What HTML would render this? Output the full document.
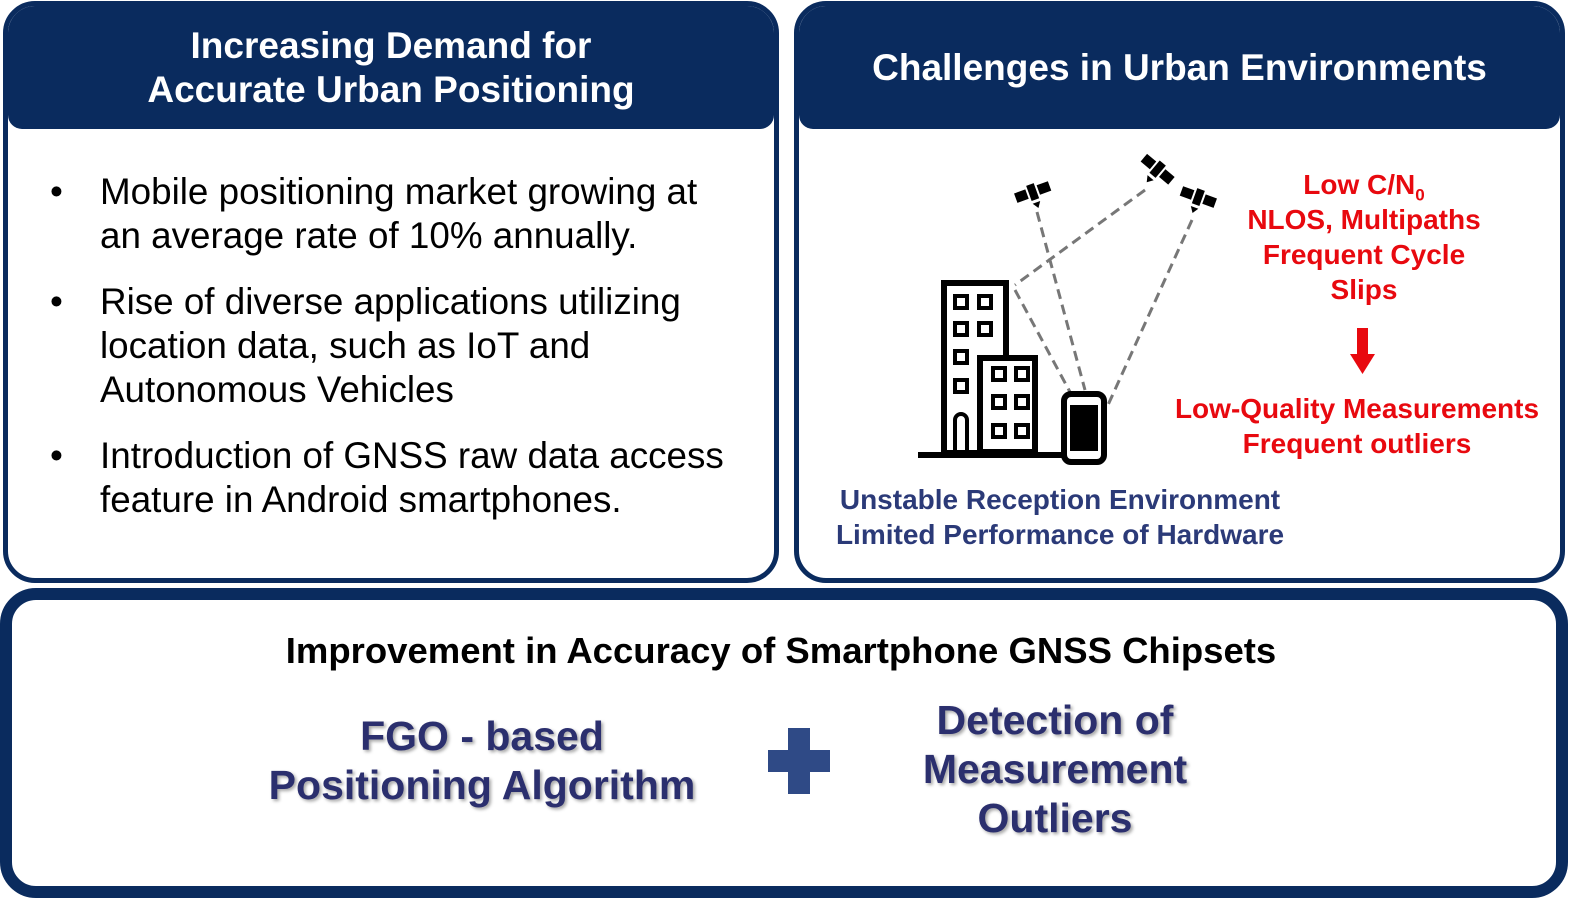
<!DOCTYPE html>
<html><head><meta charset="utf-8"><style>
body{margin:0;width:1582px;height:903px;background:#fff;position:relative;overflow:hidden;font-family:"Liberation Sans",Arial,sans-serif;}
.abs{position:absolute;}
.panel{position:absolute;border:5px solid #0a2b5e;border-radius:32px;box-sizing:border-box;overflow:hidden;}
.hdr{position:absolute;left:0;right:0;top:0;height:123px;background:#0a2b5e;border-radius:0 0 14px 14px;color:#fff;font-weight:bold;font-size:37px;text-align:center;display:flex;align-items:center;justify-content:center;line-height:44px;}
.bul{position:absolute;left:50px;font-size:36.8px;line-height:44px;color:#000;}
.bul span{position:absolute;left:0;}
.bul div{margin-left:50px;}
.red{color:#e8090f;font-weight:bold;font-size:28px;text-align:center;line-height:35px;}
.blue{color:#2b3a78;font-weight:bold;font-size:28px;text-align:center;line-height:35px;}
.big{color:#2b2f6e;font-weight:bold;font-size:41px;text-align:center;line-height:49px;text-shadow:2px 2px 3px rgba(0,0,0,0.35);}
sub{font-size:17px;line-height:0;}
</style></head><body>
<div class="panel" style="left:3px;top:1px;width:776px;height:582px;">
 <div class="hdr">Increasing Demand for<br>Accurate Urban Positioning</div>
</div>
<div class="bul" style="top:170px;"><span>•</span><div>Mobile positioning market growing at<br>an average rate of 10% annually.</div></div>
<div class="bul" style="top:280px;"><span>•</span><div>Rise of diverse applications utilizing<br>location data, such as IoT and<br>Autonomous Vehicles</div></div>
<div class="bul" style="top:434px;"><span>•</span><div>Introduction of GNSS raw data access<br>feature in Android smartphones.</div></div>

<div class="panel" style="left:794px;top:1px;width:771px;height:582px;">
 <div class="hdr">Challenges in Urban Environments</div>
</div>
<div class="panel" style="left:0;top:588px;width:1568px;height:310px;border-width:12px;border-radius:36px;"></div>
<svg class="abs" style="left:0;top:0" width="1582" height="903">
 <g stroke="#777" stroke-width="3" stroke-dasharray="10,6" fill="none">
  <line x1="1037" y1="212" x2="1085" y2="390"/>
  <line x1="1145" y1="190" x2="1015" y2="285"/>
  <line x1="1192" y1="220" x2="1108" y2="405"/>
  <line x1="1015" y1="290" x2="1070" y2="392"/>
 </g>
 <g stroke="#000" stroke-width="6" fill="none">
  <rect x="944" y="283" width="62" height="170"/>
  <line x1="918" y1="455" x2="1065" y2="455"/>
  <rect x="1064" y="394" width="40" height="68" rx="7"/>
 </g>
 <rect x="980" y="358" width="55" height="94" fill="#fff" stroke="#000" stroke-width="6"/>
 <rect x="1070" y="405" width="28" height="46" fill="#000"/>
 <g stroke="#000" stroke-width="4" fill="none">
  <rect x="955" y="296" width="12" height="12"/><rect x="979" y="296" width="12" height="12"/>
  <rect x="955" y="323" width="12" height="12"/><rect x="979" y="323" width="12" height="12"/>
  <rect x="955" y="351" width="12" height="12"/>
  <rect x="955" y="380" width="12" height="12"/>
  <path d="M955 452 V420 a6 6 0 0 1 12 0 V452"/>
  <rect x="993" y="368" width="12" height="12"/><rect x="1016" y="368" width="12" height="12"/>
  <rect x="993" y="396" width="12" height="12"/><rect x="1016" y="396" width="12" height="12"/>
  <rect x="993" y="425" width="12" height="12"/><rect x="1016" y="425" width="12" height="12"/>
 </g>
 <g fill="#000">
  <g transform="translate(1033,193) rotate(-20)"><rect x="-18" y="-6" width="12" height="10"/><rect x="6" y="-6" width="12" height="10"/><rect x="-4" y="-9" width="8" height="16"/><path d="M-4 10 h8 l-4 6z"/></g>
  <g transform="translate(1157,170) rotate(40)"><rect x="-18" y="-6" width="12" height="10"/><rect x="6" y="-6" width="12" height="10"/><rect x="-4" y="-9" width="8" height="16"/><path d="M-4 10 h8 l-4 6z"/></g>
  <g transform="translate(1198,198) rotate(20)"><rect x="-18" y="-6" width="12" height="10"/><rect x="6" y="-6" width="12" height="10"/><rect x="-4" y="-9" width="8" height="16"/><path d="M-4 10 h8 l-4 6z"/></g>
 </g>
 <rect x="1357" y="328" width="11" height="28" fill="#e8090f"/>
 <path d="M1350 354 h25 l-12.5 20z" fill="#e8090f"/>
 <rect x="768" y="750" width="62" height="22" fill="#2f4a86"/>
 <rect x="788" y="728" width="22" height="66" fill="#2f4a86"/>
</svg>
<div class="abs red" style="left:1214px;top:167px;width:300px;">Low C/N<sub>0</sub><br>NLOS, Multipaths<br>Frequent Cycle<br>Slips</div>
<div class="abs red" style="left:1120px;top:391px;width:474px;">Low-Quality Measurements<br>Frequent outliers</div>
<div class="abs blue" style="left:780px;top:482px;width:560px;">Unstable Reception Environment<br>Limited Performance of Hardware</div>

<div class="abs" style="left:0;top:630px;width:1562px;text-align:center;font-weight:bold;font-size:36.5px;color:#000;">Improvement in Accuracy of Smartphone GNSS Chipsets</div>
<div class="abs big" style="left:232px;top:712px;width:500px;">FGO - based<br>Positioning Algorithm</div>
<div class="abs big" style="left:855px;top:696px;width:400px;">Detection of<br>Measurement<br>Outliers</div>
</body></html>
